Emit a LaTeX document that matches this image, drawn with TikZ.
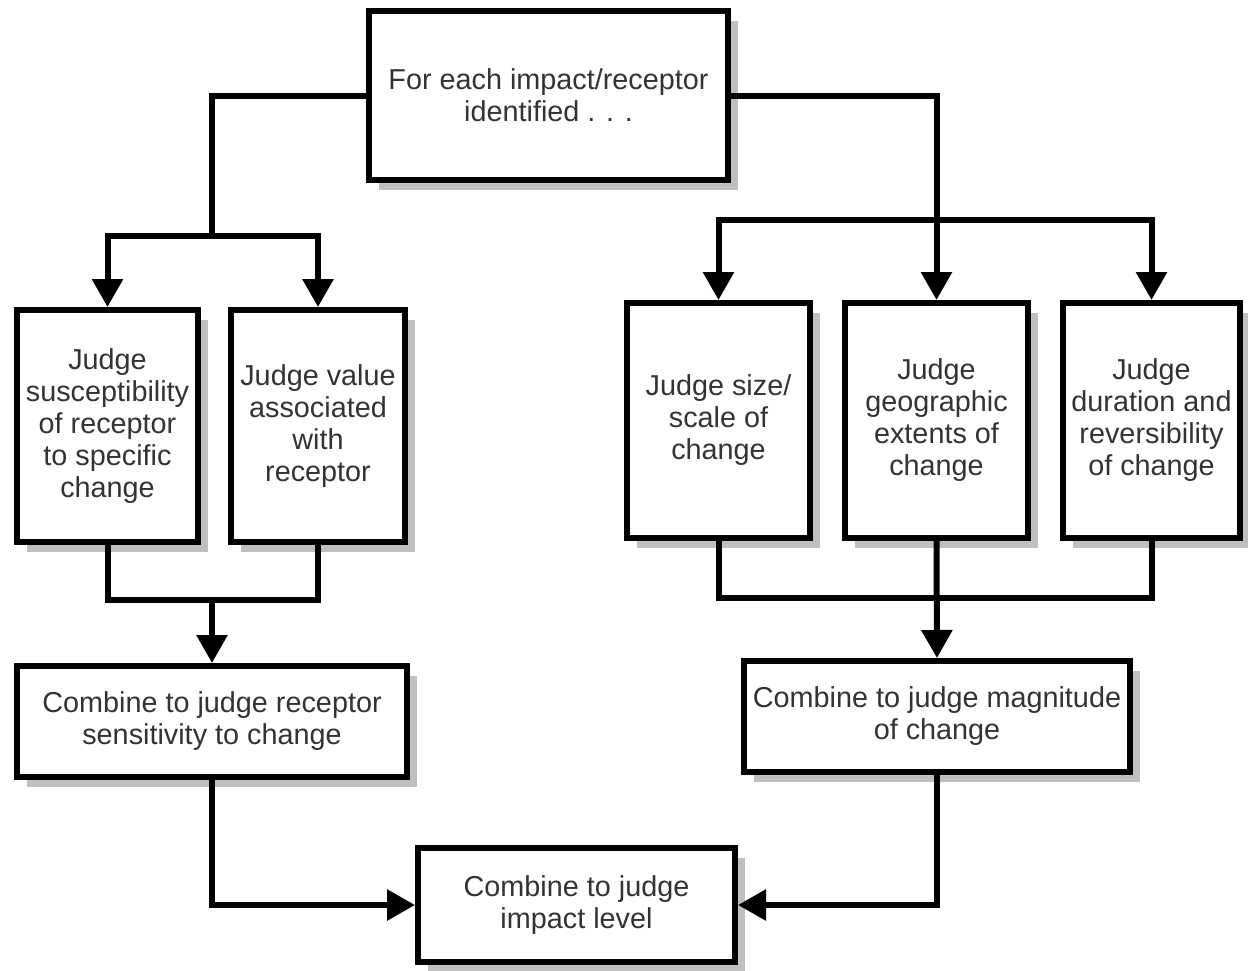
\documentclass[tikz,border=0pt]{standalone}
\usepackage{fontspec}
\setmainfont{Liberation Sans}
\usetikzlibrary{arrows.meta,shadows}
\definecolor{txt}{HTML}{333333}
\begin{document}
\begin{tikzpicture}[x=0.5pt,y=-0.5pt,
  box/.style={draw=black, line width=3pt, fill=white, rectangle, inner sep=0pt,
    align=center, text=txt, font=\fontsize{14.4pt}{16pt}\selectfont,
    drop shadow={shadow xshift=5pt, shadow yshift=-5pt, fill=black!25, opacity=1}},
  conn/.style={line width=3pt, line join=miter},
  arr/.style={conn, -{Triangle[width=15pt,length=14pt]}}]
\useasboundingbox (0,0) rectangle (1248,970);
\node[box, minimum width=179.5pt, minimum height=84.5pt] (top) at (548.5,95.5) {For each impact/receptor\\identified . . .};
\node[box, minimum width=90.5pt, minimum height=116pt] (s1) at (107.5,426) {Judge\\susceptibility\\of receptor\\to specific\\change};
\node[box, minimum width=87pt, minimum height=116pt] (s2) at (318,426) {Judge value\\associated\\with\\receptor};
\node[box, minimum width=91.5pt, minimum height=117.5pt] (m1) at (718.5,420.5) {Judge size/\\scale of\\change};
\node[box, minimum width=91.5pt, minimum height=117.5pt] (m2) at (936.5,420.5) {Judge\\geographic\\extents of\\change};
\node[box, minimum width=88.5pt, minimum height=117.5pt] (m3) at (1151.5,420.5) {Judge\\duration and\\reversibility\\of change};
\node[box, minimum width=195pt, minimum height=55.5pt] (c1) at (212,721.5) {Combine to judge receptor\\sensitivity to change};
\node[box, minimum width=193pt, minimum height=55.5pt] (c2) at (937,716.5) {Combine to judge magnitude\\of change};
\node[box, minimum width=158.5pt, minimum height=57pt] (f) at (576.5,905) {Combine to judge\\impact level};
\coordinate (jL) at (212,236);
\coordinate (jR) at (936.5,220);
\coordinate (bL) at (212,600);
\coordinate (bR) at (936.5,598);
\draw[conn] (top.west) -| (jL);
\draw[arr] (jL) -| (s1.north);
\draw[arr] (jL) -| (s2.north);
\draw[arr] (top.east) -| (m2.north);
\draw[arr] (jR) -| (m1.north);
\draw[arr] (jR) -| (m3.north);
\draw[conn] (s1.south) |- (bL) -| (s2.south);
\draw[arr] (bL) -- (c1.north);
\draw[conn] (m1.south) |- (bR) -| (m3.south);
\draw[arr] (m2.south) -- (c2.north);
\draw[arr] (c1.south) |- (f.west);
\draw[arr] (c2.south) |- (f.east);
\end{tikzpicture}
\end{document}
